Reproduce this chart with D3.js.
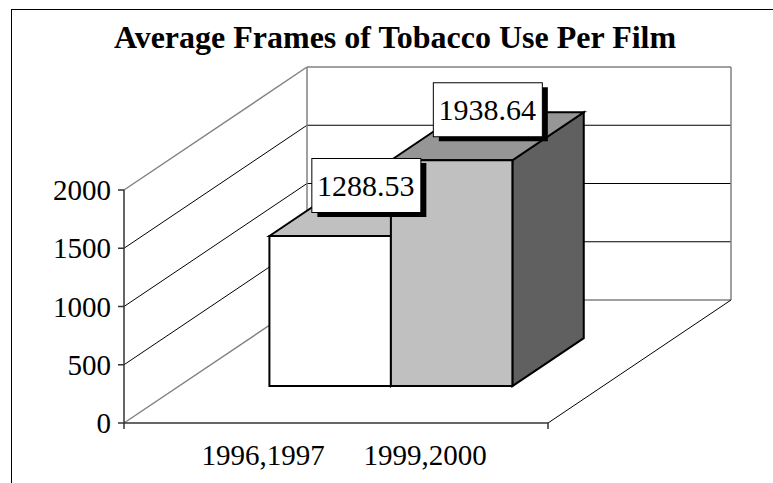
<!DOCTYPE html>
<html>
<head>
<meta charset="utf-8">
<script src="https://cdn.jsdelivr.net/npm/d3@7"></script>
<style>
  html, body { margin: 0; padding: 0; background: #fff; }
  svg { display: block; }
</style>
</head>
<body>
<div id="chart"></div>
<script>
// data
const categories = ['1996,1997', '1999,2000'];
const values = [1288.53, 1938.64];
const labels = ['1288.53', '1938.64'];
const yTicks = [0, 500, 1000, 1500, 2000];
const title = 'Average Frames of Tobacco Use Per Film';

const width = 773, height = 483;
const font = "'Liberation Serif'";

const svg = d3.select('#chart').append('svg')
  .attr('width', width)
  .attr('height', height);

// outer frame (cropped on right/bottom like the original)
svg.append('rect')
  .attr('x', 11.5).attr('y', 9.5)
  .attr('width', 900).attr('height', 600)
  .attr('fill', 'none').attr('stroke', '#000').attr('stroke-width', 1);

svg.append('text')
  .attr('x', 395).attr('y', 48)
  .attr('text-anchor', 'middle')
  .style('font-family', font)
  .style('font-weight', 'bold')
  .style('font-size', '32px')
  .text(title);

// front plane geometry + depth vector
const x0 = 124, floorW = 424;
const depth = { x: 183, y: -123 };
const yScale = d3.scaleLinear().domain([0, 2000]).range([423, 190]);
const proj = (u, v, d) => [x0 + u + d * depth.x, yScale(v) + d * depth.y];
const line = d3.line();

const xBand = d3.scaleBand().domain(categories).range([0, floorW])
  .paddingInner(0).paddingOuter(0.745);
const xLabel = d3.scalePoint().domain(categories).range([139, 301]);

const walls = svg.append('g');
// left wall + back wall gridlines
yTicks.forEach((t, i) => {
  const edge = (i === 0 || i === yTicks.length - 1);
  walls.append('path')
    .attr('d', line([proj(0, t, 0), proj(0, t, 1)]))
    .attr('stroke', edge ? '#808080' : '#000')
    .attr('stroke-width', edge ? 1.5 : 1)
    .attr('fill', 'none');
  walls.append('path')
    .attr('d', line([proj(0, t, 1), proj(floorW, t, 1)]))
    .attr('stroke', edge ? '#808080' : '#000')
    .attr('stroke-width', edge ? 1.5 : 1)
    .attr('fill', 'none');
});
// back wall verticals
[0, floorW].forEach(u => {
  walls.append('path')
    .attr('d', line([proj(u, 0, 1), proj(u, 2000, 1)]))
    .attr('stroke', '#808080').attr('stroke-width', 1.5).attr('fill', 'none');
});
// floor right diagonal
walls.append('path')
  .attr('d', line([proj(floorW, 0, 0), proj(floorW, 0, 1)]))
  .attr('stroke', '#000').attr('stroke-width', 1).attr('fill', 'none');

// axes
const axis = svg.append('g');
axis.append('path')
  .attr('d', line([proj(0, 2000, 0), proj(0, 0, 0)]))
  .attr('stroke', '#333').attr('stroke-width', 1.5).attr('fill', 'none');
axis.append('path')
  .attr('d', line([proj(0, 0, 0), proj(floorW, 0, 0)]))
  .attr('stroke', '#333').attr('stroke-width', 1.5).attr('fill', 'none');
[0, floorW].forEach(u => {
  const p = proj(u, 0, 0);
  axis.append('path')
    .attr('d', line([p, [p[0], p[1] + 6]]))
    .attr('stroke', '#333').attr('stroke-width', 1.5);
});
yTicks.forEach(t => {
  const p = proj(0, t, 0);
  axis.append('path')
    .attr('d', line([[p[0] - 6, p[1]], p]))
    .attr('stroke', '#333').attr('stroke-width', 1.5);
  axis.append('text')
    .attr('x', p[0] - 13).attr('y', p[1])
    .attr('dy', '0.35em')
    .attr('text-anchor', 'end')
    .style('font-family', font)
    .style('font-size', '29px')
    .text(t);
});
categories.forEach(c => {
  const p = proj(xLabel(c), 0, 0);
  axis.append('text')
    .attr('x', p[0]).attr('y', 465)
    .attr('text-anchor', 'middle')
    .style('font-family', font)
    .style('font-size', '29px')
    .text(c);
});

// bars
const d0 = 0.3, d1 = 0.69;
const fills = [
  { front: '#ffffff', top: '#c0c0c0', side: '#a0a0a0' },
  { front: '#c0c0c0', top: '#969696', side: '#606060' }
];
const bars = svg.append('g');
categories.forEach((c, i) => {
  const u0 = xBand(c), u1 = u0 + xBand.bandwidth(), v = values[i];
  const g = bars.append('g')
    .attr('stroke', '#000').attr('stroke-width', 2).attr('stroke-linejoin', 'miter');
  g.append('path')
    .attr('d', line([proj(u1, 0, d0), proj(u1, 0, d1), proj(u1, v, d1), proj(u1, v, d0)]) + 'Z')
    .attr('fill', fills[i].side);
  g.append('path')
    .attr('d', line([proj(u0, v, d0), proj(u0, v, d1), proj(u1, v, d1), proj(u1, v, d0)]) + 'Z')
    .attr('fill', fills[i].top);
  g.append('path')
    .attr('d', line([proj(u0, 0, d0), proj(u1, 0, d0), proj(u1, v, d0), proj(u0, v, d0)]) + 'Z')
    .attr('fill', fills[i].front);
});

// data labels
const lab = svg.append('g');
categories.forEach((c, i) => {
  const u = xBand(c) + xBand.bandwidth() / 2;
  const p = proj(u, values[i], (d0 + d1) / 2);
  const w = 109, h = 54;
  const bx = p[0] - w / 2, by = p[1] - h;
  lab.append('rect')
    .attr('x', bx + 6).attr('y', by + 5).attr('width', w).attr('height', h)
    .attr('fill', '#000');
  lab.append('rect')
    .attr('x', bx + 0.5).attr('y', by + 0.5).attr('width', w).attr('height', h)
    .attr('fill', '#fff').attr('stroke', '#000').attr('stroke-width', 1);
  lab.append('text')
    .attr('x', bx + w / 2).attr('y', by + h / 2)
    .attr('dy', '0.35em')
    .attr('text-anchor', 'middle')
    .style('font-family', font)
    .style('font-size', '30px')
    .text(labels[i]);
});
</script>
</body>
</html>
